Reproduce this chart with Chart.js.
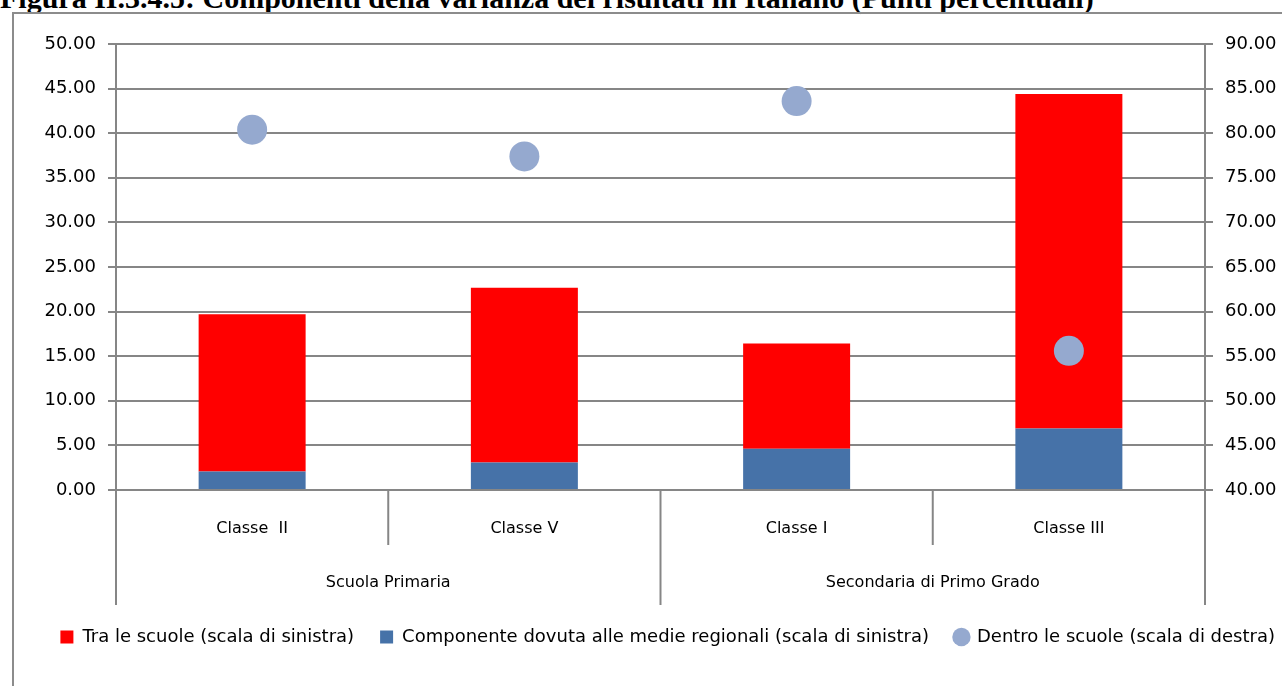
<!DOCTYPE html>
<html>
<head>
<meta charset="utf-8">
<script src="https://cdn.jsdelivr.net/npm/chart.js"></script>
<style>
  html, body { margin: 0; padding: 0; background: #fff; }
  body { width: 1282px; height: 686px; position: relative; overflow: hidden; }
  .titolo {
    position: absolute; left: 0; top: -19px; white-space: nowrap; line-height: 30px;
    font: bold 30px "Liberation Serif", serif; color: #000;
  }
  .cornice {
    position: absolute; left: 12px; top: 12px; width: 1290px; height: 700px;
    border: 2px solid #8c8c8c; box-sizing: border-box;
  }
  .wrap { position: absolute; left: 0; top: 0; width: 1282px; height: 686px; }
</style>
</head>
<body>
<div class="titolo">Figura II.3.4.5: Componenti della varianza dei risultati in Italiano (Punti percentuali)</div>
<div class="cornice"></div>
<div class="wrap"><canvas id="grafico"></canvas></div>
<script>
// dati
const classi = ['Classe  II', 'Classe V', 'Classe I', 'Classe III'];
const gradi = ['Scuola Primaria', 'Secondaria di Primo Grado'];
const componenteRegionale = [2.06, 3.07, 4.63, 6.9];
const traLeScuole = [17.65, 19.6, 11.8, 37.5];
const dentroLeScuole = [80.4, 77.4, 83.6, 55.6];
const tickSinistra = [0, 50, 5];
const tickDestra = [40, 90, 5];

const grigio = '#868686';
const fontTesto = "'DejaVu Sans', sans-serif";

// linee di separazione tra le categorie (asse a due livelli)
const separatori = {
  id: 'separatori',
  afterDraw(chart) {
    const x = chart.scales.x, x2 = chart.scales.x2;
    const ctx = chart.ctx;
    const passo = x.getPixelForTick(1) - x.getPixelForTick(0);
    const inizio = x.getPixelForTick(0) - passo / 2;
    ctx.save();
    ctx.strokeStyle = grigio;
    ctx.lineWidth = 2;
    for (let i = 0; i <= classi.length; i++) {
      const px = inizio + i * passo;
      const lunga = i % 2 === 0;
      ctx.beginPath();
      ctx.moveTo(px, chart.chartArea.bottom);
      ctx.lineTo(px, lunga ? x2.bottom + 3 : x.bottom);
      ctx.stroke();
    }
    ctx.restore();
  }
};

const ordineLegenda = ['Tra le scuole (scala di sinistra)', 'Componente dovuta alle medie regionali (scala di sinistra)', 'Dentro le scuole (scala di destra)'];

new Chart(document.getElementById('grafico'), {
  type: 'bar',
  data: {
    labels: classi,
    datasets: [
      {
        label: 'Componente dovuta alle medie regionali (scala di sinistra)',
        data: componenteRegionale,
        backgroundColor: '#4672A8',
        pointStyle: 'rect',
        yAxisID: 'y',
        order: 2
      },
      {
        label: 'Tra le scuole (scala di sinistra)',
        data: traLeScuole,
        backgroundColor: '#FF0000',
        pointStyle: 'rect',
        yAxisID: 'y',
        order: 2
      },
      {
        type: 'line',
        label: 'Dentro le scuole (scala di destra)',
        data: dentroLeScuole,
        showLine: false,
        pointRadius: 15,
        pointHoverRadius: 15,
        pointStyle: 'circle',
        backgroundColor: '#95A9CF',
        borderColor: '#95A9CF',
        borderWidth: 0,
        yAxisID: 'y1',
        order: 1
      }
    ]
  },
  options: {
    responsive: true,
    maintainAspectRatio: false,
    animation: false,
    events: [],
    categoryPercentage: 1,
    barPercentage: 0.393,
    layout: { padding: { left: 12, right: -19, top: 44, bottom: 30 } },
    scales: {
      x: {
        stacked: true,
        offset: true,
        grid: { display: false },
        border: { display: true, color: grigio, width: 2 },
        ticks: { color: '#000', padding: 21, font: { family: fontTesto, size: 16 }, maxRotation: 0 },
        afterFit(s) { s.height = 55; }
      },
      x2: {
        type: 'category',
        position: 'bottom',
        labels: gradi,
        offset: true,
        grid: { display: false },
        border: { display: false },
        ticks: { color: '#000', padding: 20, font: { family: fontTesto, size: 16 }, maxRotation: 0 },
        afterFit(s) { s.height = 57; }
      },
      y: {
        stacked: true,
        position: 'left',
        min: tickSinistra[0], max: tickSinistra[1],
        ticks: { stepSize: tickSinistra[2], color: '#000', padding: 12, font: { family: fontTesto, size: 18 }, callback: v => v.toFixed(2) },
        grid: { color: grigio, lineWidth: 2, tickLength: 8 },
        border: { display: true, color: grigio, width: 2 },
        afterFit(s) { s.width = 104; }
      },
      y1: {
        position: 'right',
        min: tickDestra[0], max: tickDestra[1],
        ticks: { stepSize: tickDestra[2], color: '#000', padding: 12, font: { family: fontTesto, size: 18 }, callback: v => v.toFixed(2) },
        grid: { drawOnChartArea: false, color: grigio, lineWidth: 2, tickLength: 8 },
        border: { display: true, color: grigio, width: 2 },
        afterFit(s) { s.width = 96; }
      }
    },
    plugins: {
      title: { display: false },
      tooltip: { enabled: false },
      legend: {
        position: 'bottom',
        align: 'end',
        labels: {
          usePointStyle: true,
          boxWidth: 13,
          boxHeight: 13,
          padding: 26,
          color: '#000',
          font: { family: fontTesto, size: 18 },
          sort: (a, b) => ordineLegenda.indexOf(a.text) - ordineLegenda.indexOf(b.text)
        }
      }
    }
  },
  plugins: [separatori]
});
</script>
</body>
</html>
